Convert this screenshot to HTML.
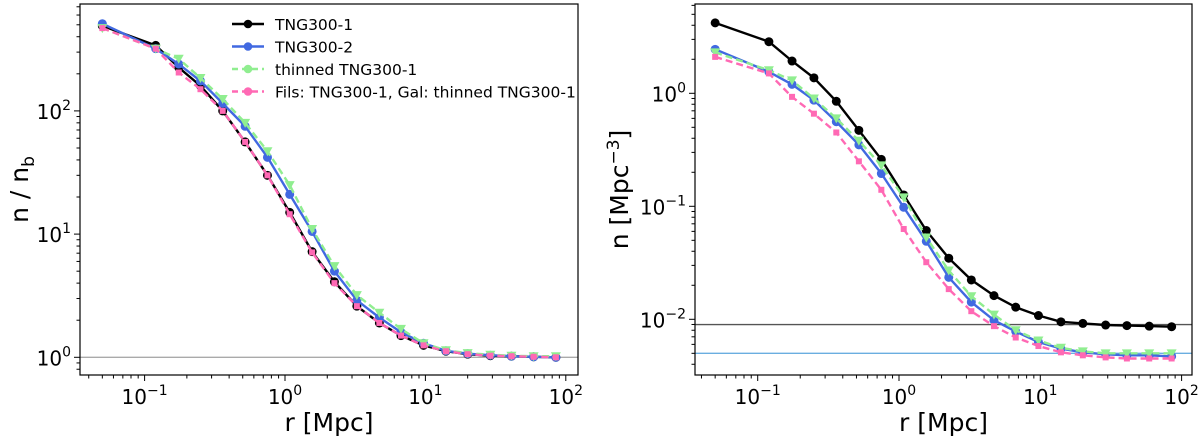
<!DOCTYPE html>
<html><head><meta charset="utf-8"><style>
body{margin:0;background:#fff;font-family:"Liberation Sans","DejaVu Sans",sans-serif}
svg text{font-family:"DejaVu Sans","Liberation Sans",sans-serif}
</style></head><body>
<svg id="c" width="1200" height="438" viewBox="0 0 1200 438" xmlns="http://www.w3.org/2000/svg"></svg>
<script>
const radii=[0.05,0.12,0.175,0.25,0.36,0.52,0.75,1.08,1.56,2.25,3.25,4.7,6.7,9.7,14,20,29,41,59,85];
const leftBlack=[490,340,225,160,100,56,30,15,7.2,4.1,2.6,1.9,1.5,1.25,1.12,1.06,1.03,1.02,1.01,1.0];
const leftBlue=[510,320,240,175,115,75,42,21,10.5,5.0,2.9,2.1,1.6,1.3,1.13,1.07,1.04,1.02,1.01,1.0];
const leftGreen=[470,320,265,185,125,80,47,25,11,5.5,3.2,2.3,1.7,1.3,1.14,1.08,1.05,1.03,1.02,1.02];
const leftPink=[470,320,205,150,100,56,30,14.5,7.1,4.0,2.6,1.9,1.5,1.25,1.12,1.06,1.03,1.02,1.01,1.0];
const rightBlack=[4.2,2.86,1.93,1.37,0.85,0.47,0.26,0.126,0.061,0.0347,0.0223,0.0162,0.0128,0.0108,0.0095,0.0092,0.0089,0.0088,0.0087,0.0086];
const rightBlue=[2.45,1.55,1.2,0.87,0.56,0.35,0.195,0.098,0.049,0.0235,0.0142,0.0098,0.0078,0.0063,0.0055,0.0051,0.0049,0.0048,0.0048,0.0047];
const rightGreen=[2.3,1.6,1.3,0.9,0.6,0.38,0.23,0.12,0.053,0.027,0.016,0.011,0.008,0.0065,0.0056,0.0052,0.005,0.005,0.005,0.005];
const rightPink=[2.1,1.5,0.93,0.66,0.45,0.25,0.14,0.063,0.032,0.0185,0.0118,0.0087,0.0069,0.0058,0.0051,0.0048,0.0046,0.0045,0.0045,0.0045];
const leftRef=[1.0];
const rightRefs=[0.00898,0.005];
const xTicks=[-1,0,1,2];
const leftYTicks=[0,1,2];
const rightYTicks=[-2,-1,0];

const svg=document.getElementById('c');
const NS='http://www.w3.org/2000/svg';
function mk(tag,attrs,parent){const e=document.createElementNS(NS,tag);for(const k in attrs)e.setAttribute(k,attrs[k]);(parent||svg).appendChild(e);return e;}

function panel(id,box,xAx,yAx,series,refs,yLabelHtml){
  const g=mk('g',{});
  
  
  const X=v=>xAx.p0+(Math.log10(v)-xAx.l0)*xAx.d;
  const Y=v=>yAx.p0-(Math.log10(v)-yAx.l0)*yAx.d;
  refs.forEach(r=>{const l=mk('line',{x1:box.x0,x2:box.x1,y1:Y(r.v),y2:Y(r.v),stroke:r.c,'stroke-width':1.3},g);
    });
  series.forEach(s=>{
    const sg=mk('g',{},g);
    
    
    const pts=radii.map((r,i)=>X(r).toFixed(1)+','+Y(s.vals[i]).toFixed(1)).join(' ');
    mk('polyline',{points:pts,fill:'none',stroke:s.c,'stroke-width':2.4,'stroke-dasharray':s.dash||'none'},sg);
    radii.forEach((r,i)=>{
      const x=X(r),y=Y(s.vals[i]);let m;
      if(s.m==='o')m=mk('circle',{cx:x,cy:y,r:4.5,fill:s.c},sg);
      else if(s.m==='v')m=mk('polygon',{points:`${x-5},${y-4} ${x+5},${y-4} ${x},${y+5}`,fill:s.c},sg);
      else m=mk('rect',{x:x-3,y:y-3,width:6,height:6,fill:s.c},sg);
      
      
    });
  });
  mk('rect',{x:box.x0,y:box.y0,width:box.x1-box.x0,height:box.y1-box.y0,fill:'none',stroke:'#000','stroke-width':1.2},g);
  for(let d=-2;d<=2;d++)for(let k=1;k<10;k++){const v=k*Math.pow(10,d);const x=X(v);if(x<box.x0||x>box.x1)continue;
    mk('line',{x1:x,x2:x,y1:box.y1,y2:box.y1+(k===1?6:3.5),stroke:'#000','stroke-width':1},g);}
  xTicks.forEach(t=>{const tx=mk('text',{x:X(Math.pow(10,t)),y:box.y1+29,'text-anchor':'middle','font-size':20},g);
    tx.innerHTML='10<tspan dy="-9" font-size="14">'+(t<0?'−'+(-t):t)+'</tspan>';
    });
  for(let d=-4;d<=3;d++)for(let k=1;k<10;k++){const v=k*Math.pow(10,d);const y=Y(v);if(y<box.y0||y>box.y1)continue;
    mk('line',{x1:box.x0,x2:box.x0-(k===1?6:3.5),y1:y,y2:y,stroke:'#000','stroke-width':1},g);}
  yAx.ticks.forEach(t=>{const tx=mk('text',{x:box.x0-9,y:Y(Math.pow(10,t))+8,'text-anchor':'end','font-size':20},g);
    tx.innerHTML='10<tspan dy="-9" font-size="14">'+(t<0?'−'+(-t):t)+'</tspan>';
    });
  const xl=mk('text',{x:(box.x0+box.x1)/2,y:431,'text-anchor':'middle','font-size':25},g);
  xl.textContent='r [Mpc]';
  const yl=mk('text',{x:0,y:0,'text-anchor':'middle','font-size':25,transform:`translate(${yAx.labx},${(box.y0+box.y1)/2}) rotate(-90)`},g);
  yl.innerHTML=yLabelHtml;
}
const C={k:'#000',b:'#4169e1',g:'#90ee90',p:'#ff69b4'};
panel('left-panel',{x0:80,x1:578,y0:4,y1:375},{p0:144.6,l0:-1,d:140.4},{p0:357.3,l0:0,d:123.2,ticks:leftYTicks,labx:28},
 [{name:'series-tng300-1',vals:leftBlack,c:C.k,m:'o'},{name:'series-tng300-2',vals:leftBlue,c:C.b,m:'o'},
  {name:'series-thinned',vals:leftGreen,c:C.g,m:'v',dash:'7,4'},{name:'series-fils-gal',vals:leftPink,c:C.p,m:'s',dash:'7,4'}],
 leftRef.map(v=>({v,c:'#aaa'})),'n / n<tspan dy="6" font-size="17">b</tspan>');
panel('right-panel',{x0:695,x1:1192,y0:4,y1:375},{p0:757.7,l0:-1,d:141.3},{p0:93.3,l0:0,d:113,ticks:rightYTicks,labx:628},
 [{name:'series-tng300-1',vals:rightBlack,c:C.k,m:'o'},{name:'series-tng300-2',vals:rightBlue,c:C.b,m:'o'},
  {name:'series-thinned',vals:rightGreen,c:C.g,m:'v',dash:'7,4'},{name:'series-fils-gal',vals:rightPink,c:C.p,m:'s',dash:'7,4'}],
 [{v:rightRefs[0],c:'#555'},{v:rightRefs[1],c:'#6aaee0'}],'n [Mpc<tspan dy="-9" font-size="17">−3</tspan><tspan dy="9">]</tspan>');
const labels=['TNG300-1','TNG300-2','thinned TNG300-1','Fils: TNG300-1, Gal: thinned TNG300-1'];
const cols=[C.k,C.b,C.g,C.p];
const leg=mk('g',{});


labels.forEach((t,i)=>{
  const y=24+i*22.5;
  const e=mk('g',{},leg);
  
  
  mk('line',{x1:232,x2:264,y1:y,y2:y,stroke:cols[i],'stroke-width':2.4,'stroke-dasharray':i>1?'6,4':'none'},e);
  mk('circle',{cx:248,cy:y,r:4.3,fill:cols[i]},e);
  const tx=mk('text',{x:275,y:y+6,'font-size':15.5},e);tx.textContent=t;
});
</script>
</body></html>
